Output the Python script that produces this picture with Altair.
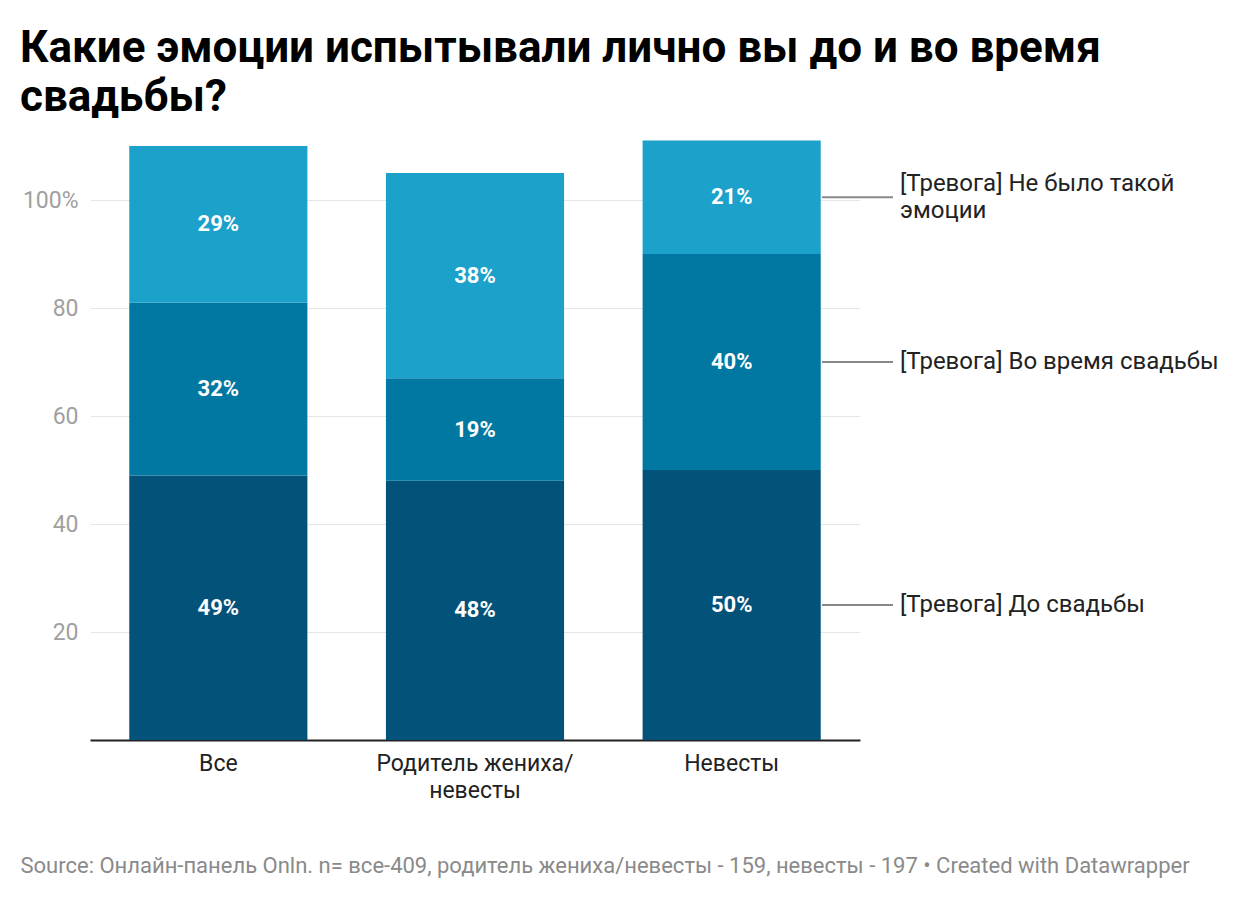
import altair as alt
import pandas as pd

categories = ["Все", "Родитель жениха/невесты", "Невесты"]
series = ["[Тревога] До свадьбы", "[Тревога] Во время свадьбы", "[Тревога] Не было такой эмоции"]
series_labels = ["[Тревога] До свадьбы", "[Тревога] Во время свадьбы", "[Тревога] Не было такой\nэмоции"]
before = [49, 48, 50]
during = [32, 19, 40]
none_ = [29, 38, 21]
colors = ["#02527a", "#0178a1", "#1ba1ca"]
y_ticks = [20, 40, 60, 80, 100]

rows = []
for i, c in enumerate(categories):
    for j, (s, vals) in enumerate(zip(series, [before, during, none_])):
        rows.append({"cat": c, "series": s, "label": series_labels[j], "order": j, "value": vals[i]})
df = pd.DataFrame(rows)

FONT = "Roboto"
source_text = "Source: Онлайн-панель Onln. n= все-409, родитель жениха/невесты - 159, невесты - 197 • Created with Datawrapper"

base = alt.Chart(df).transform_stack(
    stack="value", groupby=["cat"], as_=["y0", "y1"], sort=[alt.SortField("order", "ascending")]
).transform_calculate(mid="(datum.y0 + datum.y1) / 2", pct="datum.value + '%'")

xenc = alt.X("cat:N", sort=categories, scale=alt.Scale(paddingInner=0.306, paddingOuter=0.153),
             axis=alt.Axis(title=source_text, labelFont=FONT, labelFontSize=23, labelColor="#222222",
                           labelPadding=12, labelLineHeight=27, labelLimit=400, ticks=False, labelAngle=0,
                           domainColor="#222222", domainWidth=2,
                           labelExpr="datum.label == 'Родитель жениха/невесты' ? ['Родитель жениха/', 'невесты'] : datum.label",
                           titleFont=FONT, titleFontSize=22, titleFontWeight="normal", titleColor="#8a8a8a",
                           titleX=-70, titleY=125, titleAlign="left", titleBaseline="middle", titleAnchor="start",
                           titleLimit=1300))
yscale = alt.Scale(domain=[0, 120], nice=False)

bars = base.mark_bar().encode(
    x=xenc,
    y=alt.Y("y0:Q", scale=yscale,
            axis=alt.Axis(values=y_ticks, title=None, domain=False, ticks=False, labelFont=FONT,
                          labelFontSize=23, labelColor="#a0a0a0", labelPadding=12,
                          gridColor="#e6e6e6", gridWidth=1,
                          labelExpr="datum.value == 100 ? '100%' : datum.label")),
    y2="y1:Q",
    color=alt.Color("series:N", scale=alt.Scale(domain=series, range=colors), legend=None),
)

vals = base.mark_text(font=FONT, fontSize=22, fontWeight="bold", color="white", baseline="middle").encode(
    x=alt.X("cat:N", sort=categories),
    y=alt.Y("mid:Q", scale=yscale),
    text="pct:N",
)

last = base.transform_filter(alt.datum.cat == "Невесты")
rules = last.mark_rule(color="#888888", strokeWidth=2).encode(
    x=alt.value(732), x2=alt.value(803), y=alt.Y("mid:Q", scale=yscale)
)
labels_single = last.transform_filter(alt.datum.order < 2).mark_text(
    font=FONT, fontSize=24, color="#222222", align="left", baseline="middle").encode(
    x=alt.value(810), y=alt.Y("mid:Q", scale=yscale), text="label:N"
)
labels_multi = last.transform_filter(alt.datum.order == 2).mark_text(
    font=FONT, fontSize=24, color="#222222", align="left", baseline="middle",
    lineBreak="\n", lineHeight=27, dy=-13).encode(
    x=alt.value(810), y=alt.Y("mid:Q", scale=yscale), text="label:N"
)

chart = alt.layer(bars, vals, rules, labels_single, labels_multi).properties(
    width=770, height=648,
    title=alt.Title(["Какие эмоции испытывали лично вы до и во время", "свадьбы?"],
                    font=FONT, fontSize=44, fontWeight="bold", color="#000000",
                    anchor="start", frame="group", dx=-70, dy=48, lineHeight=49, offset=20),
    autosize=alt.AutoSizeParams(type="none"),
    padding={"left": 82, "top": 84, "right": 372, "bottom": 150},
).configure(background="white").configure_view(strokeWidth=0, stroke="transparent")

chart.save("out.html", embed_options={"renderer": "svg", "actions": False})
